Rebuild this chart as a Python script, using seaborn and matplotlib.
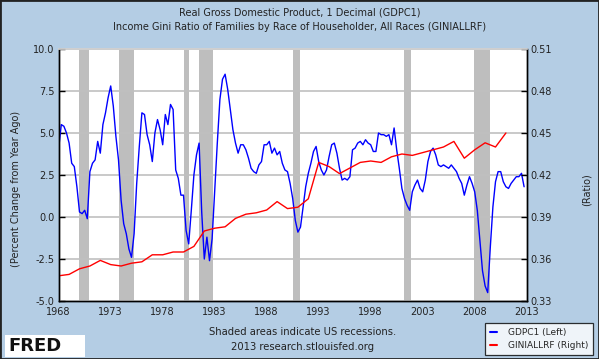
import numpy as np
import pandas as pd
import matplotlib
matplotlib.use("Agg")
import matplotlib.pyplot as plt
import seaborn as sns
from matplotlib.patches import Rectangle
from matplotlib.lines import Line2D

# Real GDP, percent change from year ago, quarterly from 1968Q1 to 2012Q4
gdp_start = 1968
gdp_values = [
    4.1, 5.5, 5.4, 5.0,   # 1968
    4.4, 3.2, 3.0, 1.8,   # 1969
    0.3, 0.2, 0.4, -0.1,  # 1970
    2.7, 3.2, 3.4, 4.5,   # 1971
    3.8, 5.5, 6.2, 7.1,   # 1972
    7.8, 6.6, 4.8, 3.4,   # 1973
    1.0, -0.4, -1.0, -1.9,  # 1974
    -2.4, -1.0, 2.0, 4.2,   # 1975
    6.2, 6.1, 4.9, 4.3,   # 1976
    3.3, 5.0, 5.8, 5.2,   # 1977
    4.3, 6.1, 5.5, 6.7,   # 1978
    6.4, 2.8, 2.3, 1.3,   # 1979
    1.3, -0.8, -1.6, 0.4,  # 1980
    2.5, 3.7, 4.4, 0.3,   # 1981
    -2.5, -1.2, -2.6, -1.3,  # 1982
    1.6, 4.4, 7.0, 8.2,   # 1983
    8.5, 7.6, 6.4, 5.2,   # 1984
    4.4, 3.8, 4.3, 4.3,   # 1985
    4.0, 3.5, 2.9, 2.7,   # 1986
    2.6, 3.1, 3.3, 4.3,   # 1987
    4.3, 4.5, 3.8, 4.1,   # 1988
    3.7, 3.9, 3.2, 2.8,   # 1989
    2.7, 2.0, 1.1, -0.2,  # 1990
    -0.9, -0.6, 0.6, 1.8,  # 1991
    2.6, 3.2, 3.9, 4.2,   # 1992
    3.3, 2.8, 2.5, 2.8,   # 1993
    3.6, 4.3, 4.4, 3.8,   # 1994
    2.9, 2.2, 2.3, 2.2,   # 1995
    2.4, 4.0, 4.1, 4.4,   # 1996
    4.5, 4.3, 4.6, 4.4,   # 1997
    4.3, 3.9, 3.9, 5.0,   # 1998
    4.9, 4.9, 4.8, 4.9,   # 1999
    4.3, 5.3, 4.0, 2.9,   # 2000
    1.7, 1.1, 0.7, 0.4,   # 2001
    1.5, 1.9, 2.2, 1.7,   # 2002
    1.5, 2.2, 3.3, 3.9,   # 2003
    4.1, 3.7, 3.1, 3.0,   # 2004
    3.1, 3.0, 2.9, 3.1,   # 2005
    2.9, 2.7, 2.3, 2.0,   # 2006
    1.3, 1.9, 2.4, 2.0,   # 2007
    1.5, 0.4, -1.4, -3.2,  # 2008
    -4.1, -4.5, -1.8, 0.6,  # 2009
    2.1, 2.7, 2.7, 2.1,   # 2010
    1.8, 1.7, 2.0, 2.2,   # 2011
    2.4, 2.4, 2.6, 1.8,   # 2012
]

# Income Gini ratio of families, annual
gini_years = list(range(1968, 2012))
gini_values = [
    0.348, 0.349, 0.353, 0.355, 0.359, 0.356, 0.355, 0.357, 0.358, 0.363,
    0.363, 0.365, 0.365, 0.369, 0.380, 0.382, 0.383, 0.389, 0.392, 0.393,
    0.395, 0.401, 0.396, 0.397, 0.403, 0.429, 0.426, 0.421, 0.425, 0.429,
    0.430, 0.429, 0.433, 0.435, 0.434, 0.436, 0.438, 0.440, 0.444, 0.432,
    0.438, 0.443, 0.440, 0.450,
]

# US recessions (fractional years)
rec_start = [1969.92, 1973.83, 1980.0, 1981.5, 1990.5, 2001.17, 2007.92]
rec_end = [1970.87, 1975.2, 1980.5, 1982.87, 1991.2, 2001.87, 2009.45]

gdp = pd.DataFrame({
    "date": gdp_start + np.arange(len(gdp_values)) / 4,
    "GDPC1": gdp_values,
})
gini = pd.DataFrame({"date": gini_years, "GINIALLRF": gini_values})

sns.set_theme(style="white")
plt.rcParams["font.family"] = ["DejaVu Sans"]

bg = "#b4cde4"
W, H = 599, 359
fig = plt.figure(figsize=(W / 100, H / 100), dpi=100, facecolor=bg)
ax = fig.add_axes([58.7 / W, 1 - 301 / H, 468 / W, 252 / H])
ax.set_facecolor("white")

for s, e in zip(rec_start, rec_end):
    ax.axvspan(s, e, color="#bebebe", lw=0, zorder=1)

sns.lineplot(data=gdp, x="date", y="GDPC1", ax=ax, color="#0000ff", lw=1.0, zorder=3)

ax.set_xlim(1968, 2013)
ax.set_ylim(-5, 10)
ax.set_yticks(np.arange(-5, 10.1, 2.5))
ax.set_yticklabels([f"{v:.1f}" for v in np.arange(-5, 10.1, 2.5)])
ax.set_xticks(range(1968, 2014, 5))
ax.yaxis.grid(True, color="#c0c0c0", lw=1.2, zorder=2)
ax.set_axisbelow(False)
ax.set_xlabel("")
ax.set_ylabel("")

ax2 = ax.twinx()
sns.lineplot(data=gini, x="date", y="GINIALLRF", ax=ax2, color="#ff0000", lw=1.0)
ax2.set_ylim(0.33, 0.51)
ax2.set_yticks(np.arange(0.33, 0.5101, 0.03))
ax2.set_yticklabels([f"{v:.2f}" for v in np.arange(0.33, 0.5101, 0.03)])
ax2.set_ylabel("")
ax2.set_xlim(1968, 2013)

for a in (ax, ax2):
    for side in ("left", "right", "bottom"):
        a.spines[side].set_color("black")
        a.spines[side].set_linewidth(1.0)
    a.spines["top"].set_color("#d0d0d0")
    a.tick_params(direction="in", length=4, width=1, colors="black",
                  labelsize=7, labelcolor="#222222", pad=3)
ax.tick_params(axis="x", pad=4.5)

# titles
fig.text(0.5, 1 - 12.5 / H, "Real Gross Domestic Product, 1 Decimal (GDPC1)",
         ha="center", va="center", fontsize=7, color="#222222")
fig.text(0.5, 1 - 27.5 / H,
         "Income Gini Ratio of Families by Race of Householder, All Races (GINIALLRF)",
         ha="center", va="center", fontsize=7, color="#222222")

fig.text(16 / W, 1 - 189 / H, "(Percent Change from Year Ago)", rotation=90,
         ha="center", va="center", fontsize=7, color="#222222")
fig.text(586.5 / W, 1 - 190 / H, "(Ratio)", rotation=90,
         ha="center", va="center", fontsize=7, color="#222222")

fig.text(303 / W, 1 - 332 / H, "Shaded areas indicate US recessions.",
         ha="center", va="center", fontsize=7.2, color="#222222")
fig.text(303 / W, 1 - 347 / H, "2013 research.stlouisfed.org",
         ha="center", va="center", fontsize=7.2, color="#222222")

# legend
handles = [Line2D([], [], color="#0000ff", lw=1.5), Line2D([], [], color="#ff0000", lw=1.5)]
leg = fig.legend(handles, ["GDPC1 (Left)", "GINIALLRF (Right)"],
                 loc="lower right", bbox_to_anchor=(595 / W, 1 - 357 / H),
                 fontsize=6.5, frameon=True, fancybox=False, handlelength=0.8,
                 handletextpad=1.2, borderpad=0.55, labelspacing=0.45,
                 borderaxespad=0.2)
leg.get_frame().set_edgecolor("black")
leg.get_frame().set_linewidth(0.9)
leg.get_frame().set_facecolor("white")

# FRED logo
fig.patches.append(Rectangle((5 / W, 1 - 357 / H), 80 / W, 22 / H, transform=fig.transFigure,
                             facecolor="white", edgecolor="none"))
fig.text(8 / W, 1 - 346 / H, "FRED", ha="left", va="center", fontsize=13,
         fontweight="bold", color="#111111")

# outer border
fig.patches.append(Rectangle((0, 0), 1, 1, transform=fig.transFigure, fill=False,
                             edgecolor="#222222", lw=2))

fig.savefig("out.png", dpi=100, facecolor=bg)
